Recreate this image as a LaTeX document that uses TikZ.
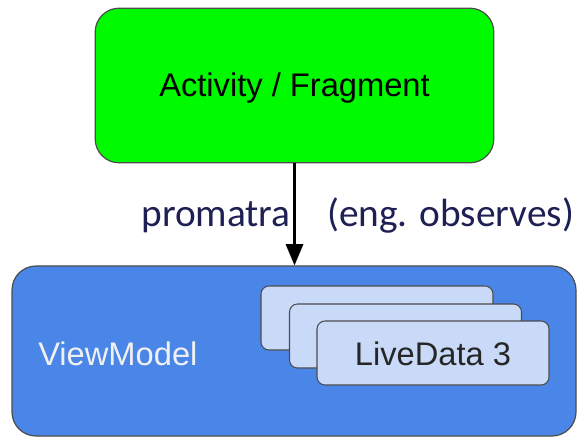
\documentclass[tikz,border=0pt]{standalone}
\usepackage{fontspec}
\setmainfont{Liberation Sans}
\newfontfamily\labelfont{Carlito}
\usetikzlibrary{arrows.meta}
\definecolor{actgreen}{RGB}{0,250,0}
\definecolor{vmblue}{RGB}{74,134,232}
\definecolor{ldblue}{RGB}{201,218,248}
\definecolor{labelnavy}{RGB}{30,32,84}
\tikzset{
  bigbox/.style={draw=black!70, line width=0.9pt, rounded corners=18pt, inner sep=0pt},
  databox/.style={draw=black!70, fill=ldblue, line width=0.8pt, rounded corners=6pt,
    minimum width=174pt, minimum height=48pt, inner sep=0pt},
  boxtext/.style={font=\fontsize{24.5}{29}\selectfont, inner sep=0pt},
  edgelabel/.style={font=\labelfont\fontsize{29.5}{35}\selectfont, text=labelnavy, inner sep=0pt}
}
\begin{document}
\begin{tikzpicture}[x=0.75pt,y=-0.75pt]
\useasboundingbox (0,0) rectangle (578,438);
\node[bigbox, fill=actgreen, minimum width=299pt, minimum height=116pt] (act) at (294.5,85.5) {};
\node[boxtext] (acttext) at (294.5,88) {Activity / Fragment};

\node[bigbox, fill=vmblue, minimum width=423pt, minimum height=127.5pt] (vm) at (294,351) {};
\node[boxtext, text=white!94!black, anchor=west] (vmtext) at (38,354) {ViewModel};

\node[databox] (data1) at (377,318) {};
\node[databox] (data2) at (405.5,336) {};
\node[databox] (data3) at (433,353) {};
\node[boxtext, text=black!85] (data3text) at (433,354) {LiveData 3};

\draw[line width=1.6pt, -{Triangle[length=16pt,width=13pt]}] (act.south) -- (act.south |- vm.north);

\node[edgelabel, anchor=base east] (promatra) at (291,227) {promatra};
\node[edgelabel, anchor=base west] (observes) at (327,227) {(eng. observes)};
\end{tikzpicture}
\end{document}
